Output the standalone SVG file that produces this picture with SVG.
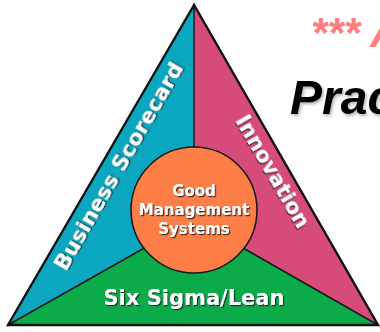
<svg xmlns="http://www.w3.org/2000/svg" width="380" height="332" viewBox="0 0 380 332">
  <defs>
    <filter id="sh" x="-10%" y="-10%" width="120%" height="130%">
      <feDropShadow dx="1.2" dy="1.2" stdDeviation="0.6" flood-color="#222" flood-opacity="0.85"/>
    </filter>
    <filter id="sh2" x="-10%" y="-10%" width="120%" height="130%">
      <feDropShadow dx="1.5" dy="2" stdDeviation="1.5" flood-color="#000" flood-opacity="0.3"/>
    </filter>
  </defs>
  <style>
    .lbl { font-family: "DejaVu Sans", Verdana, sans-serif; font-weight: bold; fill: #ffffff; text-anchor: middle; filter: url(#sh); }
    .div { stroke: #1a1a1a; stroke-width: 1.6; fill: none; }
    .title { font-family: "Liberation Sans", Arial, sans-serif; font-weight: bold; font-style: italic; }
  </style>
  <rect width="380" height="332" fill="#ffffff"/>

  <g id="business-scorecard">
    <polygon points="194,5 8,325 194,220" fill="#0ba6bf"/>
    <text class="lbl" font-size="21.5" transform="translate(125,170) rotate(-60)">Business Scorecard</text>
  </g>
  <g id="innovation">
    <polygon points="194,5 378,325 194,220" fill="#d74b7b"/>
    <text class="lbl" font-size="21" transform="translate(266.5,175) rotate(60)">Innovation</text>
  </g>
  <g id="six-sigma-lean">
    <polygon points="8,325 378,325 194,220" fill="#0bab4a"/>
    <text class="lbl" font-size="21" x="194" y="305">Six Sigma/Lean</text>
  </g>

  <g id="dividers">
    <line class="div" x1="194" y1="5" x2="194" y2="220"/>
    <line class="div" x1="8" y1="325" x2="194" y2="220"/>
    <line class="div" x1="378" y1="325" x2="194" y2="220"/>
    <polygon points="194,5 8,325 378,325" fill="none" stroke="#111" stroke-width="2.4" stroke-linejoin="miter"/>
  </g>

  <g id="good-management-systems">
    <circle cx="194" cy="210" r="63" fill="#fd7e46" stroke="#1a1a1a" stroke-width="1.6"/>
    <text class="lbl" font-size="15" x="194" y="196">Good</text>
    <text class="lbl" font-size="15" x="194" y="215">Management</text>
    <text class="lbl" font-size="15" x="194" y="234">Systems</text>
  </g>

  <g id="title">
    <text class="title" x="311" y="47" font-size="42" fill="#ff7d7d">*** A</text>
    <text class="title" x="290" y="114" font-size="48" fill="#000000" filter="url(#sh2)">Prac</text>
  </g>
</svg>
